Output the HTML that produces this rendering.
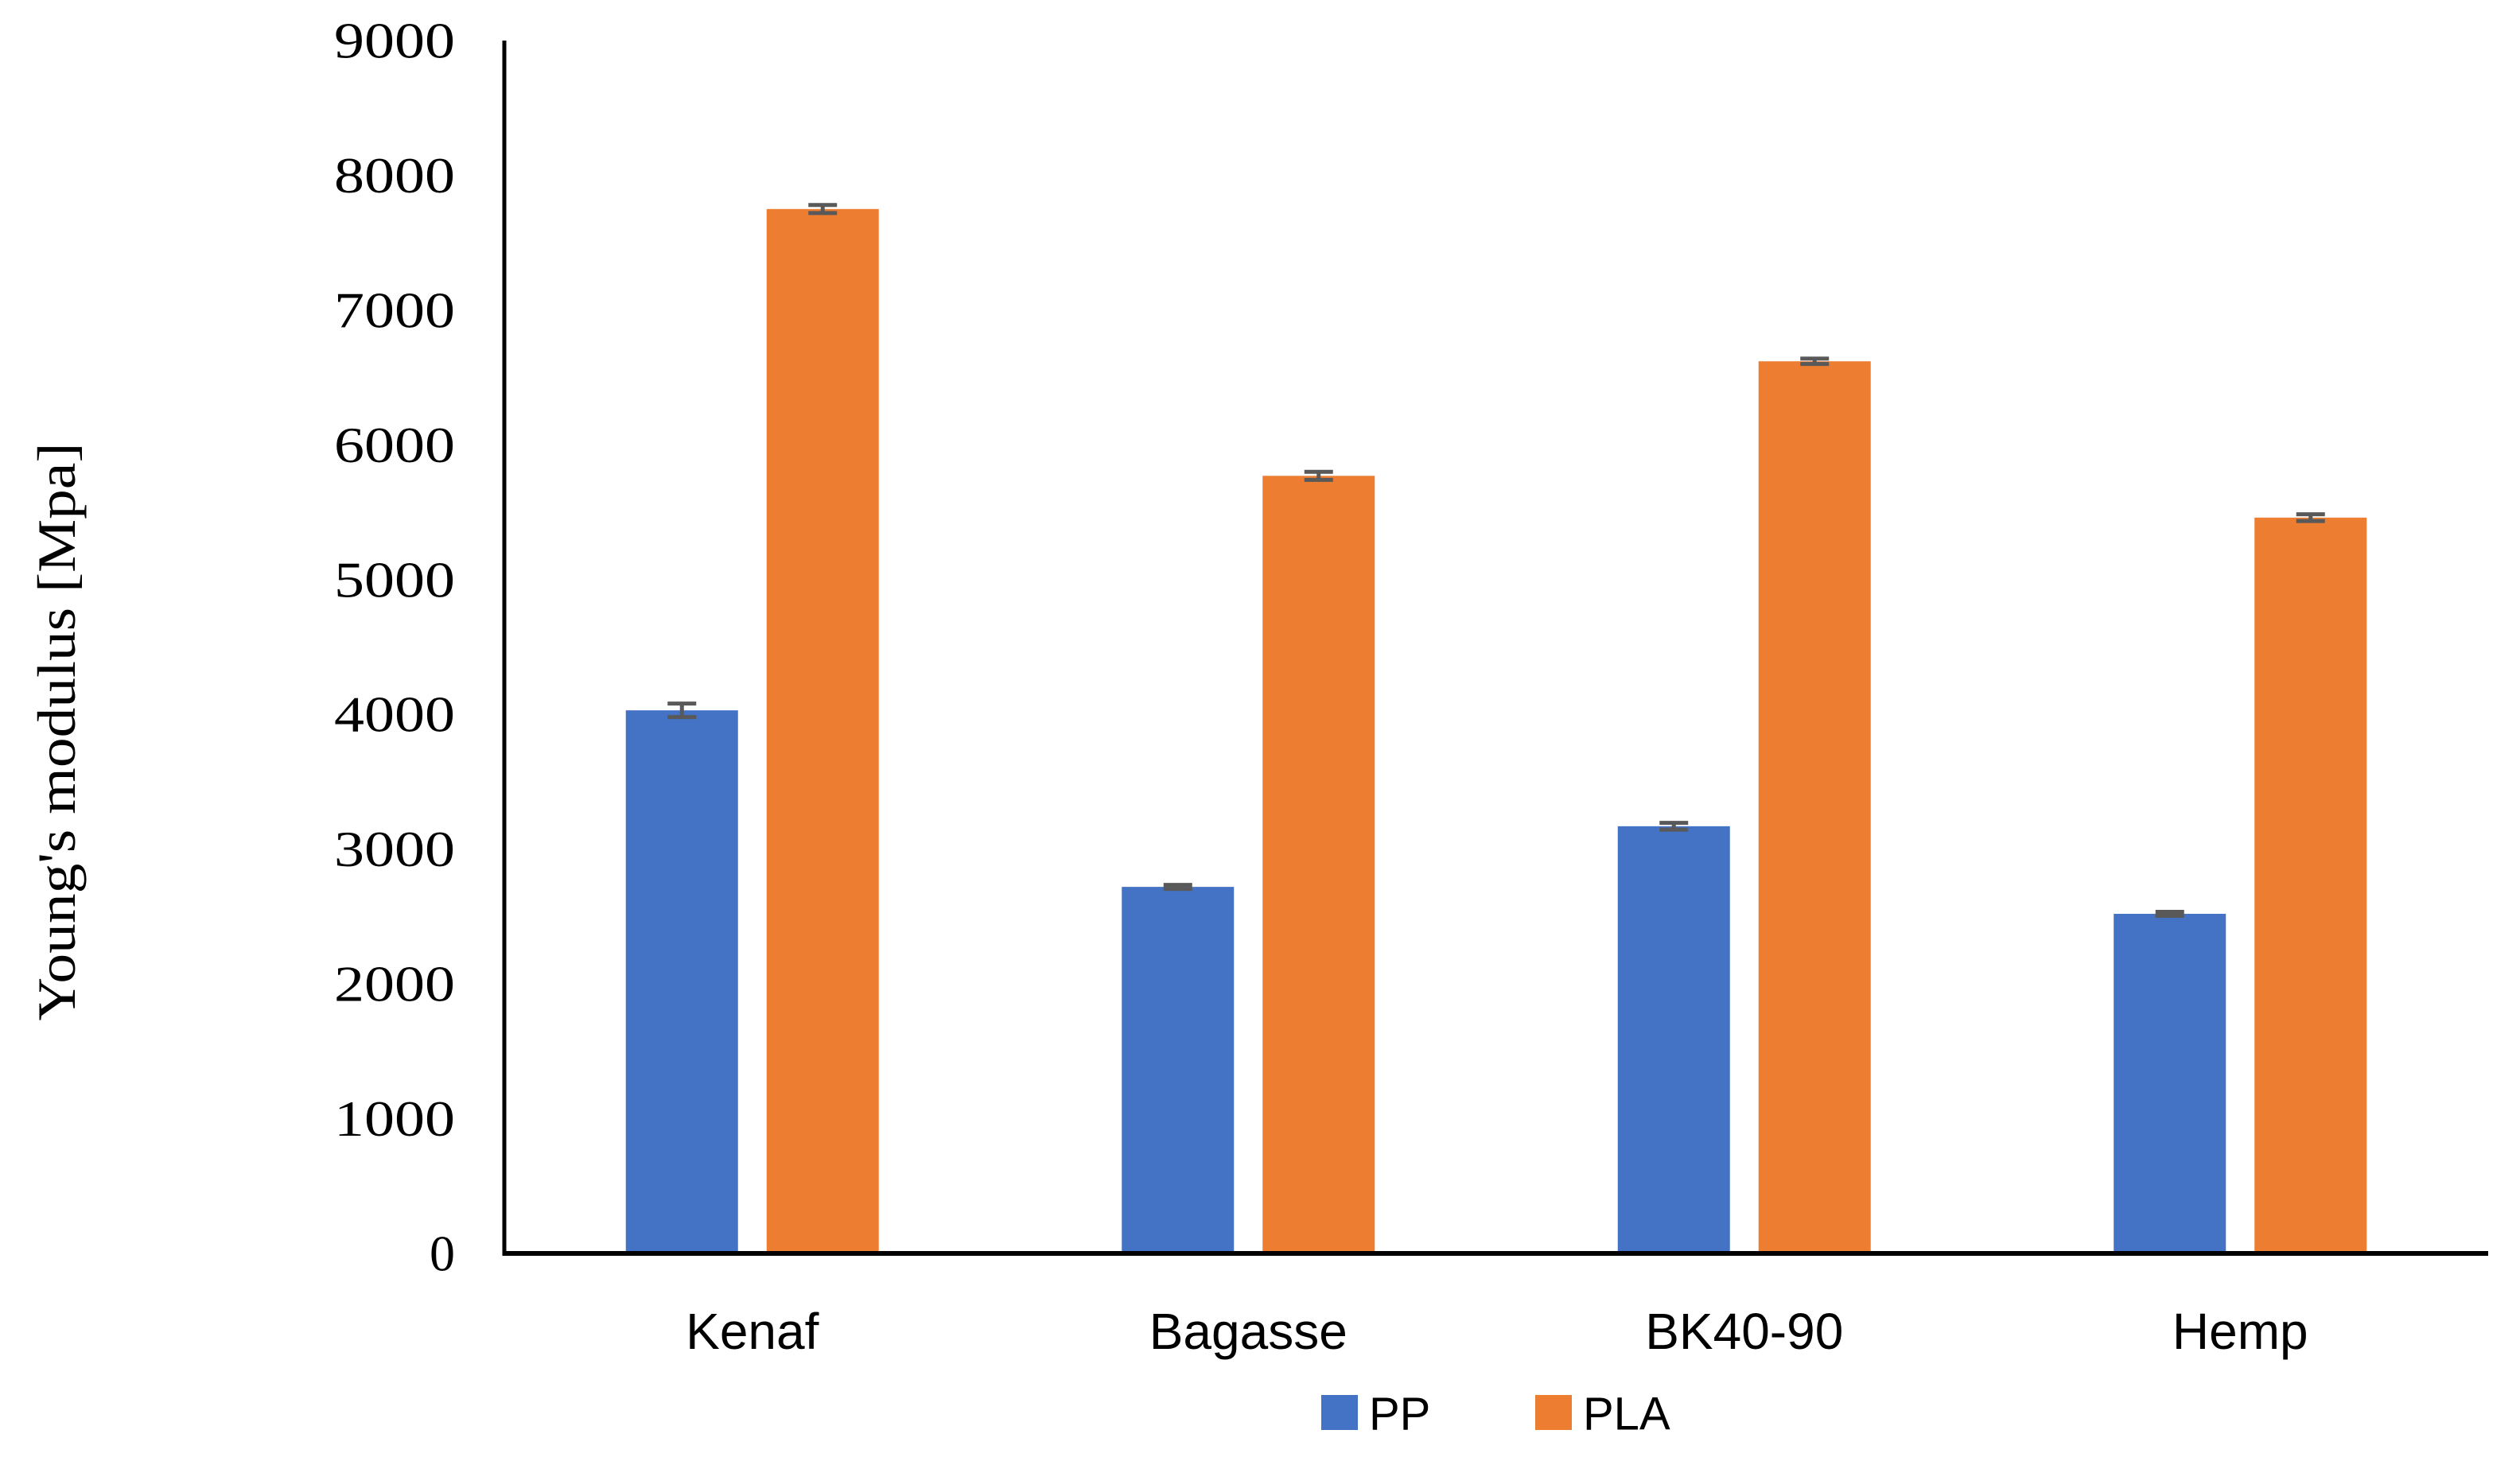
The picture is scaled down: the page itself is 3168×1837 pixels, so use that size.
<!DOCTYPE html>
<html><head><meta charset="utf-8"><style>
html,body{margin:0;padding:0;background:#fff;}
svg{display:block;}
</style></head><body>
<svg id="chart" width="3168" height="1837" viewBox="0 0 3168 1837" xmlns="http://www.w3.org/2000/svg">
<g id="grid"></g>
<g id="bars"></g>
<g id="errs"></g>
<g id="axes"></g>
<g id="labels"></g>
<text x="71" y="920" transform="rotate(-90 71 920)" text-anchor="middle" dominant-baseline="central" font-family="Liberation Serif, serif" font-size="68" textLength="727" lengthAdjust="spacingAndGlyphs" fill="#000">Young's modulus [Mpa]</text>
<g>
<rect x="1661" y="1754" width="46" height="44" fill="#4472C4"/>
<text x="1721" y="1778" dominant-baseline="central" font-family="Liberation Sans, sans-serif" font-size="58" fill="#000">PP</text>
<rect x="1930" y="1754" width="46" height="44" fill="#ED7D31"/>
<text x="1990" y="1778" dominant-baseline="central" font-family="Liberation Sans, sans-serif" font-size="58" fill="#000">PLA</text>
</g>
</svg>
<script>
const categories = ["Kenaf", "Bagasse", "BK40-90", "Hemp"];
const ppValues = [4030, 2720, 3170, 2520];
const plaValues = [7750, 5770, 6620, 5460];
const ppErrors = [50, 15, 25, 15];
const plaErrors = [30, 30, 20, 25];
const yTicks = [0, 1000, 2000, 3000, 4000, 5000, 6000, 7000, 8000, 9000];

const NS = "http://www.w3.org/2000/svg";
const X0 = 634, X1 = 3128, Y0 = 1576, Y1 = 51, YMAX = 9000;
const yScale = v => Y0 - (v / YMAX) * (Y0 - Y1);
const catW = (X1 - X0) / categories.length;
const catCenter = i => X0 + catW * (i + 0.5);
const BW = 141, GAP = 36;
function mk(tag, attrs, parent) {
  const e = document.createElementNS(NS, tag);
  for (const k in attrs) e.setAttribute(k, attrs[k]);
  parent.appendChild(e);
  return e;
}
const bars = document.getElementById("bars");
const errs = document.getElementById("errs");
const axes = document.getElementById("axes");
const labels = document.getElementById("labels");
const series = [[ppValues, ppErrors, "#4472C4", "pp", -1], [plaValues, plaErrors, "#ED7D31", "pla", 1]];
categories.forEach((c, i) => {
  const cx = catCenter(i);
  series.forEach(([vals, er, col, nm, side]) => {
    const x = side < 0 ? cx - GAP / 2 - BW : cx + GAP / 2;
    const r = mk("rect", {x: x, y: yScale(vals[i]), width: BW, height: Y0 - yScale(vals[i]), fill: col}, bars);
    
    
    const ex = x + BW / 2;
    const g = mk("g", {stroke: "#595959", "stroke-width": 5}, errs);
    
    
    const yt = yScale(vals[i] + er[i]), yb = yScale(vals[i] - er[i]);
    mk("line", {x1: ex, x2: ex, y1: yt, y2: yb}, g);
    mk("line", {x1: ex - 18, x2: ex + 18, y1: yt, y2: yt}, g);
    mk("line", {x1: ex - 18, x2: ex + 18, y1: yb, y2: yb}, g);
  });
  const t = mk("text", {x: cx, y: 1674, "text-anchor": "middle", "dominant-baseline": "central", "font-family": "Liberation Sans, sans-serif", "font-size": 64, fill: "#000"}, labels);
  t.textContent = c;
  
  
});
yTicks.forEach(v => {
  const t = mk("text", {x: 572, y: yScale(v), "text-anchor": "end", "dominant-baseline": "central", "font-family": "Liberation Serif, serif", "font-size": 64, fill: "#000"}, labels);
  t.textContent = v;
  if (v > 0) t.setAttribute("textLength", v >= 1000 ? 152 : 38);
  t.setAttribute("lengthAdjust", "spacingAndGlyphs");
  
  
});
const ya = mk("line", {x1: X0, x2: X0, y1: Y1, y2: Y0 + 3, stroke: "#000", "stroke-width": 5}, axes);


const xa = mk("line", {x1: X0 - 2, x2: X1, y1: Y0, y2: Y0, stroke: "#000", "stroke-width": 6}, axes);


</script>
</body></html>
